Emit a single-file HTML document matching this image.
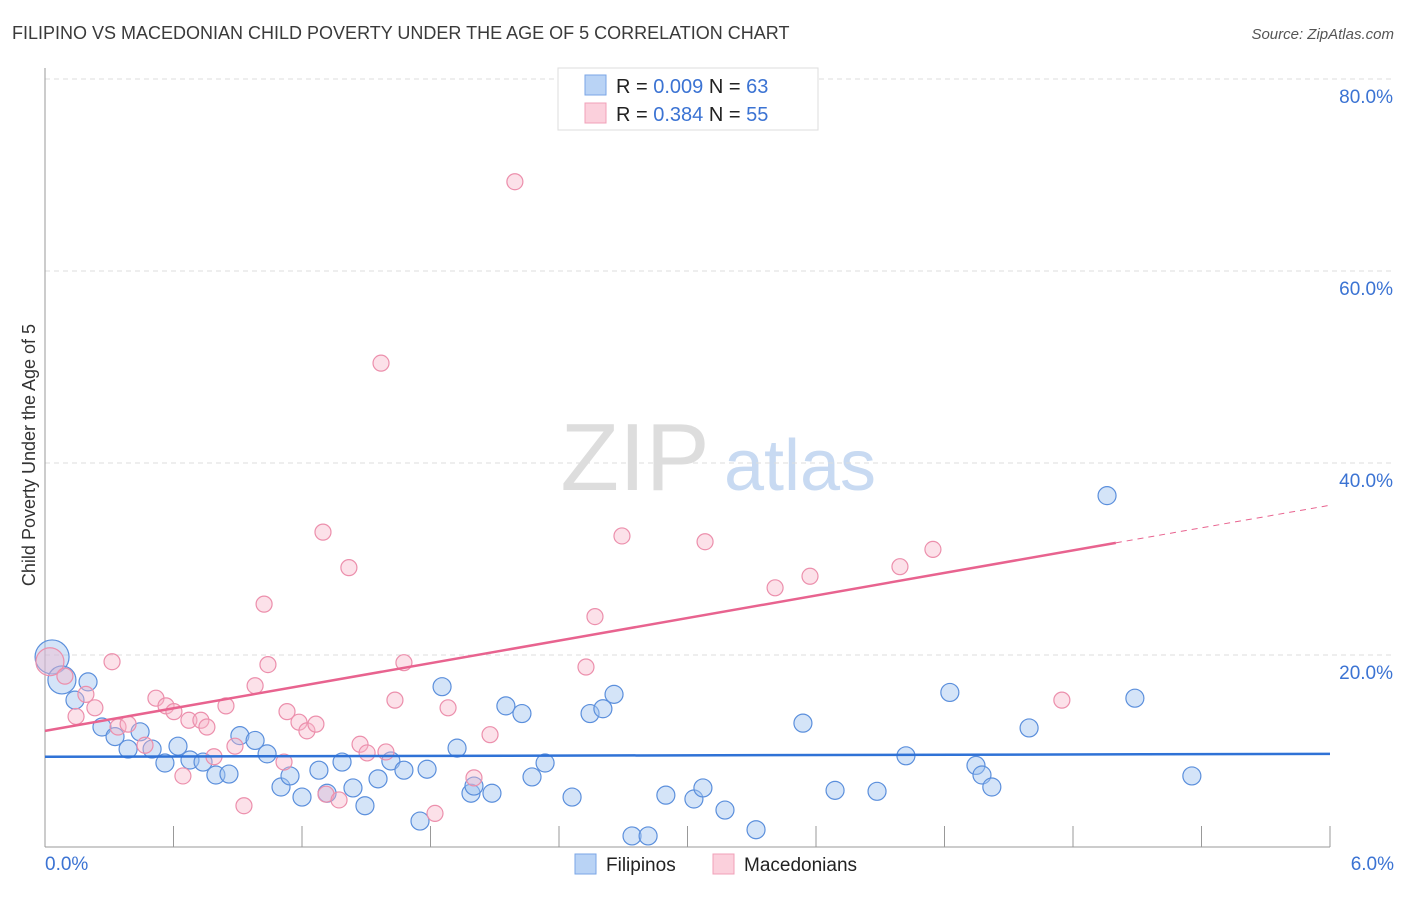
<!DOCTYPE html>
<html><head><meta charset="utf-8"><style>
body{margin:0;background:#fff;font-family:"Liberation Sans",sans-serif;}
svg text{font-family:"Liberation Sans",sans-serif;}
</style></head><body>
<svg id="chart" width="1406" height="892" xmlns="http://www.w3.org/2000/svg">
<text x="12" y="39" font-size="18" fill="#3a3a3a">FILIPINO VS MACEDONIAN CHILD POVERTY UNDER THE AGE OF 5 CORRELATION CHART</text>
<text x="1394" y="39" font-size="15" fill="#555" font-style="italic" text-anchor="end">Source: ZipAtlas.com</text>
<text x="35" y="455" font-size="18" fill="#333" text-anchor="middle" transform="rotate(-90 35 455)">Child Poverty Under the Age of 5</text>
<g><text x="635" y="490" font-size="96" font-family="Liberation Serif" fill="#ddd" text-anchor="middle">ZIP</text><text x="800" y="490" font-size="72" fill="#c8daf2" text-anchor="middle">atlas</text></g>
<g id="grid"></g><g id="axes"></g><g id="marks"></g>
<g>
<rect x="558" y="68" width="260" height="62" fill="#fff" stroke="#ddd"/>
<rect x="585" y="75" width="21" height="20" fill="#b9d3f5" stroke="#7aa6e6"/>
<rect x="585" y="103" width="21" height="20" fill="#fbd0dc" stroke="#f0a0b8"/>
<text x="616" y="93" font-size="20" fill="#222">R = <tspan fill="#3b73d3">0.009</tspan>   N = <tspan fill="#3b73d3">63</tspan></text>
<text x="616" y="121" font-size="20" fill="#222">R =  <tspan fill="#3b73d3">0.384</tspan>   N = <tspan fill="#3b73d3">55</tspan></text>
</g>
<g>
<rect x="575" y="854" width="21" height="20" fill="#b9d3f5" stroke="#7aa6e6"/>
<text x="606" y="871" font-size="19" fill="#222">Filipinos</text>
<rect x="713" y="854" width="21" height="20" fill="#fbd0dc" stroke="#f0a0b8"/>
<text x="744" y="871" font-size="19" fill="#222">Macedonians</text>
</g>
</svg>
<script>
const blueX=[0.033,0.079,0.201,0.140,0.266,0.327,0.388,0.444,0.500,0.560,0.621,0.677,0.738,0.798,0.859,0.910,0.981,1.037,1.102,1.144,1.200,1.279,1.317,1.387,1.438,1.494,1.555,1.615,1.676,1.751,1.784,1.854,1.924,1.989,2.003,2.087,2.152,2.227,2.274,2.335,2.461,2.545,2.605,2.657,2.741,2.816,2.899,3.030,3.072,3.175,3.320,3.539,3.689,3.885,4.020,4.225,4.347,4.375,4.421,4.595,4.959,5.089,5.355];
const blueY=[19.8,17.4,17.2,15.3,12.5,11.5,10.2,12.0,10.2,8.75,10.5,9.06,8.85,7.5,7.6,11.6,11.1,9.7,6.25,7.4,5.2,8.0,5.6,8.85,6.15,4.3,7.1,8.96,8.0,2.7,8.1,16.7,10.3,5.6,6.35,5.6,14.7,13.9,7.3,8.75,5.2,13.9,14.4,15.9,1.15,1.15,5.4,5.0,6.15,3.85,1.8,12.9,5.9,5.8,9.5,16.1,8.5,7.5,6.25,12.4,36.6,15.5,7.4];
const pinkX=[0.023,0.093,0.145,0.191,0.233,0.313,0.341,0.388,0.467,0.518,0.565,0.602,0.644,0.672,0.728,0.756,0.789,0.845,0.887,0.929,0.981,1.023,1.041,1.116,1.130,1.186,1.223,1.265,1.298,1.312,1.373,1.419,1.471,1.504,1.569,1.592,1.634,1.676,1.821,1.882,2.003,2.078,2.194,2.526,2.568,2.694,3.082,3.409,3.572,3.992,4.146,4.748];
const pinkY=[19.3,17.8,13.6,15.9,14.5,19.3,12.5,12.8,10.6,15.5,14.7,14.1,7.4,13.2,13.2,12.5,9.4,14.7,10.5,4.3,16.8,25.3,19.0,8.85,14.1,13.0,12.1,12.8,32.8,5.5,4.9,29.1,10.7,9.8,50.4,9.9,15.3,19.2,3.5,14.5,7.2,11.7,69.3,18.75,24.0,32.4,31.8,27.0,28.2,29.2,31.0,15.3];
const yTicks=[20,40,60,80];
const xTicks=[0,0.6,1.2,1.8,2.4,3.0,3.6,4.2,4.8,5.4,6.0];
const blueFit=[9.4,9.7];
const pinkFit=[12.1,35.6];
const X=v=>45+v/6*1285, Y=v=>847-v*9.6;
const NS="http://www.w3.org/2000/svg";
function mk(p,t,a){const e=document.createElementNS(NS,t);for(const k in a)e.setAttribute(k,a[k]);p.appendChild(e);return e;}
const grid=document.getElementById('grid'),axes=document.getElementById('axes'),marks=document.getElementById('marks');
yTicks.forEach(v=>{
 const l=mk(grid,'line',{x1:45,x2:1394,y1:Y(v),y2:Y(v),stroke:'#ddd','stroke-dasharray':'5,4'});
 
 
 const t=mk(axes,'text',{x:1393,y:Y(v)+24,'font-size':19,fill:'#3b73d3','text-anchor':'end'});t.textContent=v.toFixed(1)+'%';
 
 
});
const ax=mk(axes,'line',{x1:45,x2:45,y1:68,y2:847,stroke:'#999'});


const bx=mk(axes,'line',{x1:45,x2:1330,y1:847,y2:847,stroke:'#999'});


xTicks.forEach((v,i)=>{
 const l=mk(axes,'line',{x1:X(v),x2:X(v),y1:826,y2:847,stroke:'#999'});
 
 
});
[[0,'start'],[6,'end']].forEach(([v,a])=>{
 const t=mk(axes,'text',{x:v==0?45:1394,y:870,'font-size':19,fill:'#3b73d3','text-anchor':a});t.textContent=v.toFixed(1)+'%';
 
 
});
function dot(x,y,r,f,s,name){const c=mk(marks,'circle',{cx:X(x),cy:Y(y),r:r,fill:f,stroke:s,'stroke-width':1.2});
 
 }
blueX.forEach((x,i)=>dot(x,blueY[i],i<2?(i==0?17:14):9,'rgba(160,195,240,0.45)','#5b8fdc','filipino-point'));
pinkX.forEach((x,i)=>dot(x,pinkY[i],i==0?14:8,'rgba(248,180,200,0.4)','#ec8fac','macedonian-point'));
const bl=mk(marks,'line',{x1:X(0),x2:X(6),y1:Y(blueFit[0]),y2:Y(blueFit[1]),stroke:'#2f72d6','stroke-width':2.5});


const pm=(pinkFit[1]-pinkFit[0])/6, xe=5.0;
const pl=mk(marks,'line',{x1:X(0),x2:X(xe),y1:Y(pinkFit[0]),y2:Y(pinkFit[0]+pm*xe),stroke:'#e8638f','stroke-width':2.5});


const pd=mk(marks,'line',{x1:X(xe),x2:X(6),y1:Y(pinkFit[0]+pm*xe),y2:Y(pinkFit[1]),stroke:'#e8638f','stroke-width':1,'stroke-dasharray':'6,5'});


</script>
</body></html>
